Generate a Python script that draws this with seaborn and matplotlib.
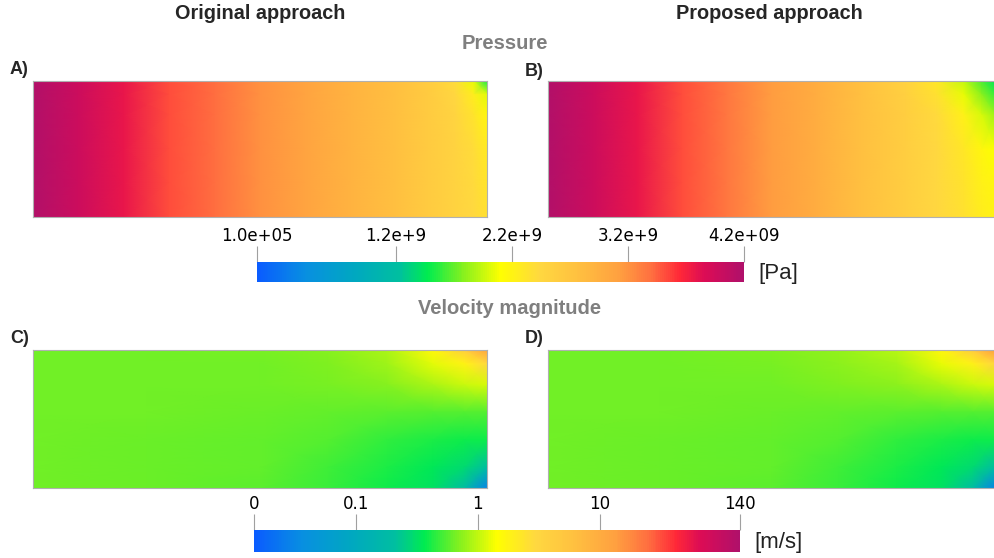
import numpy as np
import matplotlib
matplotlib.use('Agg')
import matplotlib.pyplot as plt
from matplotlib.colors import LinearSegmentedColormap, Normalize, LogNorm
from matplotlib.cm import ScalarMappable
from matplotlib.ticker import NullLocator
import seaborn as sns

sns.set_theme(style='white')
plt.rcParams['font.family'] = ['Liberation Sans', 'DejaVu Sans']

# colour map
cmap_pos = [0.0, 0.10, 0.20, 0.29, 0.35, 0.42, 0.50, 0.58, 0.66, 0.745, 0.81, 0.87, 0.92, 1.0]
cmap_col = ['#0a5cff', '#0890e0', '#00a8c0', '#00bfa0', '#00ec50', '#80f020', '#ffff00',
            '#ffd840', '#ffc040', '#ffa040', '#ff7040', '#ff2838', '#dc0c55', '#b0106a']

# pressure field samples (1e9 Pa), rows top -> bottom
p_x = [0, 0.1, 0.2, 0.3, 0.4, 0.5, 0.6, 0.7, 0.8, 0.87, 0.93, 0.97, 1.0]
p_y = [0, 0.1, 0.25, 0.5, 0.75, 1.0]
pressure_orig = [
    [4.18, 3.98, 3.78, 3.52, 3.4, 3.2, 3.08, 2.92, 2.77, 2.6, 2.4, 2.05, 1.5],
    [4.18, 3.98, 3.78, 3.52, 3.4, 3.2, 3.08, 2.92, 2.77, 2.62, 2.46, 2.25, 2.02],
    [4.18, 3.98, 3.78, 3.52, 3.4, 3.2, 3.08, 2.92, 2.77, 2.62, 2.48, 2.34, 2.18],
    [4.18, 3.98, 3.78, 3.52, 3.4, 3.2, 3.08, 2.92, 2.77, 2.62, 2.5, 2.4, 2.28],
    [4.18, 3.98, 3.78, 3.52, 3.4, 3.2, 3.08, 2.92, 2.77, 2.62, 2.5, 2.42, 2.32],
    [4.18, 3.98, 3.78, 3.52, 3.4, 3.2, 3.08, 2.92, 2.77, 2.62, 2.5, 2.43, 2.35],
]
pressure_prop = [
    [4.18, 3.98, 3.78, 3.52, 3.35, 3.15, 2.97, 2.77, 2.52, 2.3, 1.95, 1.65, 1.45],
    [4.18, 3.98, 3.78, 3.52, 3.35, 3.15, 2.97, 2.77, 2.55, 2.35, 2.05, 1.8, 1.6],
    [4.18, 3.98, 3.78, 3.52, 3.35, 3.15, 2.97, 2.77, 2.56, 2.42, 2.22, 2.0, 1.85],
    [4.18, 3.98, 3.78, 3.52, 3.35, 3.15, 2.97, 2.77, 2.56, 2.43, 2.3, 2.18, 2.1],
    [4.18, 3.98, 3.78, 3.52, 3.35, 3.15, 2.97, 2.77, 2.56, 2.44, 2.33, 2.23, 2.17],
    [4.18, 3.98, 3.78, 3.52, 3.35, 3.15, 2.97, 2.77, 2.56, 2.45, 2.35, 2.26, 2.21],
]

# velocity magnitude samples (m/s), rows top -> bottom
v_x = [0, 0.25, 0.5, 0.65, 0.78, 0.88, 0.95, 1.0]
v_y = [0, 0.1, 0.25, 0.45, 0.65, 0.85, 1.0]
velocity_orig = [
    [0.63, 0.63, 0.66, 0.72, 0.9, 1.6, 4.0, 12.0],
    [0.63, 0.63, 0.65, 0.7, 0.82, 1.2, 1.8, 3.0],
    [0.63, 0.63, 0.64, 0.67, 0.72, 0.9, 1.05, 1.15],
    [0.63, 0.63, 0.62, 0.6, 0.57, 0.55, 0.55, 0.55],
    [0.63, 0.62, 0.6, 0.55, 0.46, 0.41, 0.39, 0.39],
    [0.63, 0.62, 0.59, 0.5, 0.41, 0.35, 0.29, 0.2],
    [0.63, 0.62, 0.58, 0.48, 0.39, 0.32, 0.2, 0.03],
]
velocity_prop = [
    [0.63, 0.64, 0.7, 0.78, 0.96, 1.7, 4.5, 14.0],
    [0.63, 0.63, 0.67, 0.73, 0.85, 1.25, 1.9, 3.2],
    [0.63, 0.63, 0.64, 0.68, 0.74, 0.9, 1.05, 1.15],
    [0.63, 0.63, 0.62, 0.6, 0.57, 0.55, 0.55, 0.55],
    [0.63, 0.62, 0.6, 0.55, 0.46, 0.41, 0.39, 0.39],
    [0.63, 0.62, 0.59, 0.5, 0.41, 0.35, 0.29, 0.2],
    [0.63, 0.62, 0.58, 0.48, 0.39, 0.32, 0.2, 0.03],
]

p_ticks = [1e5, 1.2e9, 2.2e9, 3.2e9, 4.2e9]
p_labels = ['1.0e+05', '1.2e+9', '2.2e+9', '3.2e+9', '4.2e+09']
v_min = 0.0147
v_ticks = [v_min, 0.1, 1, 10, 140]
v_labels = ['0', '0.1', '1', '10', '140']

cmap = LinearSegmentedColormap.from_list('pv', list(zip(cmap_pos, cmap_col)))
p_norm = Normalize(vmin=1e5, vmax=4.2e9)
v_norm = LogNorm(vmin=v_min, vmax=140)

fig = plt.figure(figsize=(9.95, 5.58), dpi=100)


def field(rect, xs, ys, vals, norm, scale=1.0):
    ax = fig.add_axes(rect)
    X, Y = np.meshgrid(xs, ys)
    ax.pcolormesh(X, Y, np.array(vals) * scale, shading='gouraud', cmap=cmap, norm=norm)
    ax.set_xlim(0, 1)
    ax.set_ylim(1, 0)
    ax.set_xticks([])
    ax.set_yticks([])
    for s in ax.spines.values():
        s.set_color('#b0b0b0')
        s.set_linewidth(0.8)
    return ax


field([0.0332, 0.6111, 0.4563, 0.2437], p_x, p_y, pressure_orig, p_norm, 1e9)
field([0.5508, 0.6111, 0.4492, 0.2437], p_x, p_y, pressure_prop, p_norm, 1e9)
field([0.0332, 0.1254, 0.4563, 0.2473], v_x, v_y, velocity_orig, v_norm)
field([0.5508, 0.1254, 0.4492, 0.2473], v_x, v_y, velocity_prop, v_norm)


def bar(rect, norm, ticks, labels, unit):
    cax = fig.add_axes(rect)
    cb = fig.colorbar(ScalarMappable(norm=norm, cmap=cmap), cax=cax, orientation='horizontal')
    cb.outline.set_visible(False)
    cax.xaxis.set_ticks_position('top')
    cax.xaxis.set_minor_locator(NullLocator())
    cb.set_ticks(ticks)
    cb.set_ticklabels(labels)
    cax.tick_params(axis='x', direction='out', length=11.5, width=0.8, color='#a0a0a0',
                    labelsize=12, pad=0.5, labelcolor='black')
    for t in cax.get_xticklabels():
        t.set_fontfamily('DejaVu Sans')
    cax.text(1.03, 0.45, unit, transform=cax.transAxes, ha='left', va='center',
             fontsize=16, color='#222222')


bar([0.2583, 0.4946, 0.4894, 0.0358], p_norm, p_ticks, p_labels, '[Pa]')
bar([0.2553, 0.0108, 0.4884, 0.0394], v_norm, v_ticks, v_labels, '[m/s]')

fig.text(0.261, 0.976, 'Original approach', ha='center', va='center', fontsize=14.3, fontweight='bold')
fig.text(0.773, 0.976, 'Proposed approach', ha='center', va='center', fontsize=14.3, fontweight='bold')
fig.text(0.507, 0.922, 'Pressure', ha='center', va='center', fontsize=14.5, fontweight='bold', color='#7f7f7f')
fig.text(0.512, 0.448, 'Velocity magnitude', ha='center', va='center', fontsize=14.5, fontweight='bold', color='#7f7f7f')
fig.text(0.010, 0.875, 'A)', ha='left', va='center', fontsize=13, fontweight='bold')
fig.text(0.527, 0.871, 'B)', ha='left', va='center', fontsize=13, fontweight='bold')
fig.text(0.010, 0.394, 'C)', ha='left', va='center', fontsize=13, fontweight='bold')
fig.text(0.527, 0.394, 'D)', ha='left', va='center', fontsize=13, fontweight='bold')

fig.savefig('out.png', dpi=100)
